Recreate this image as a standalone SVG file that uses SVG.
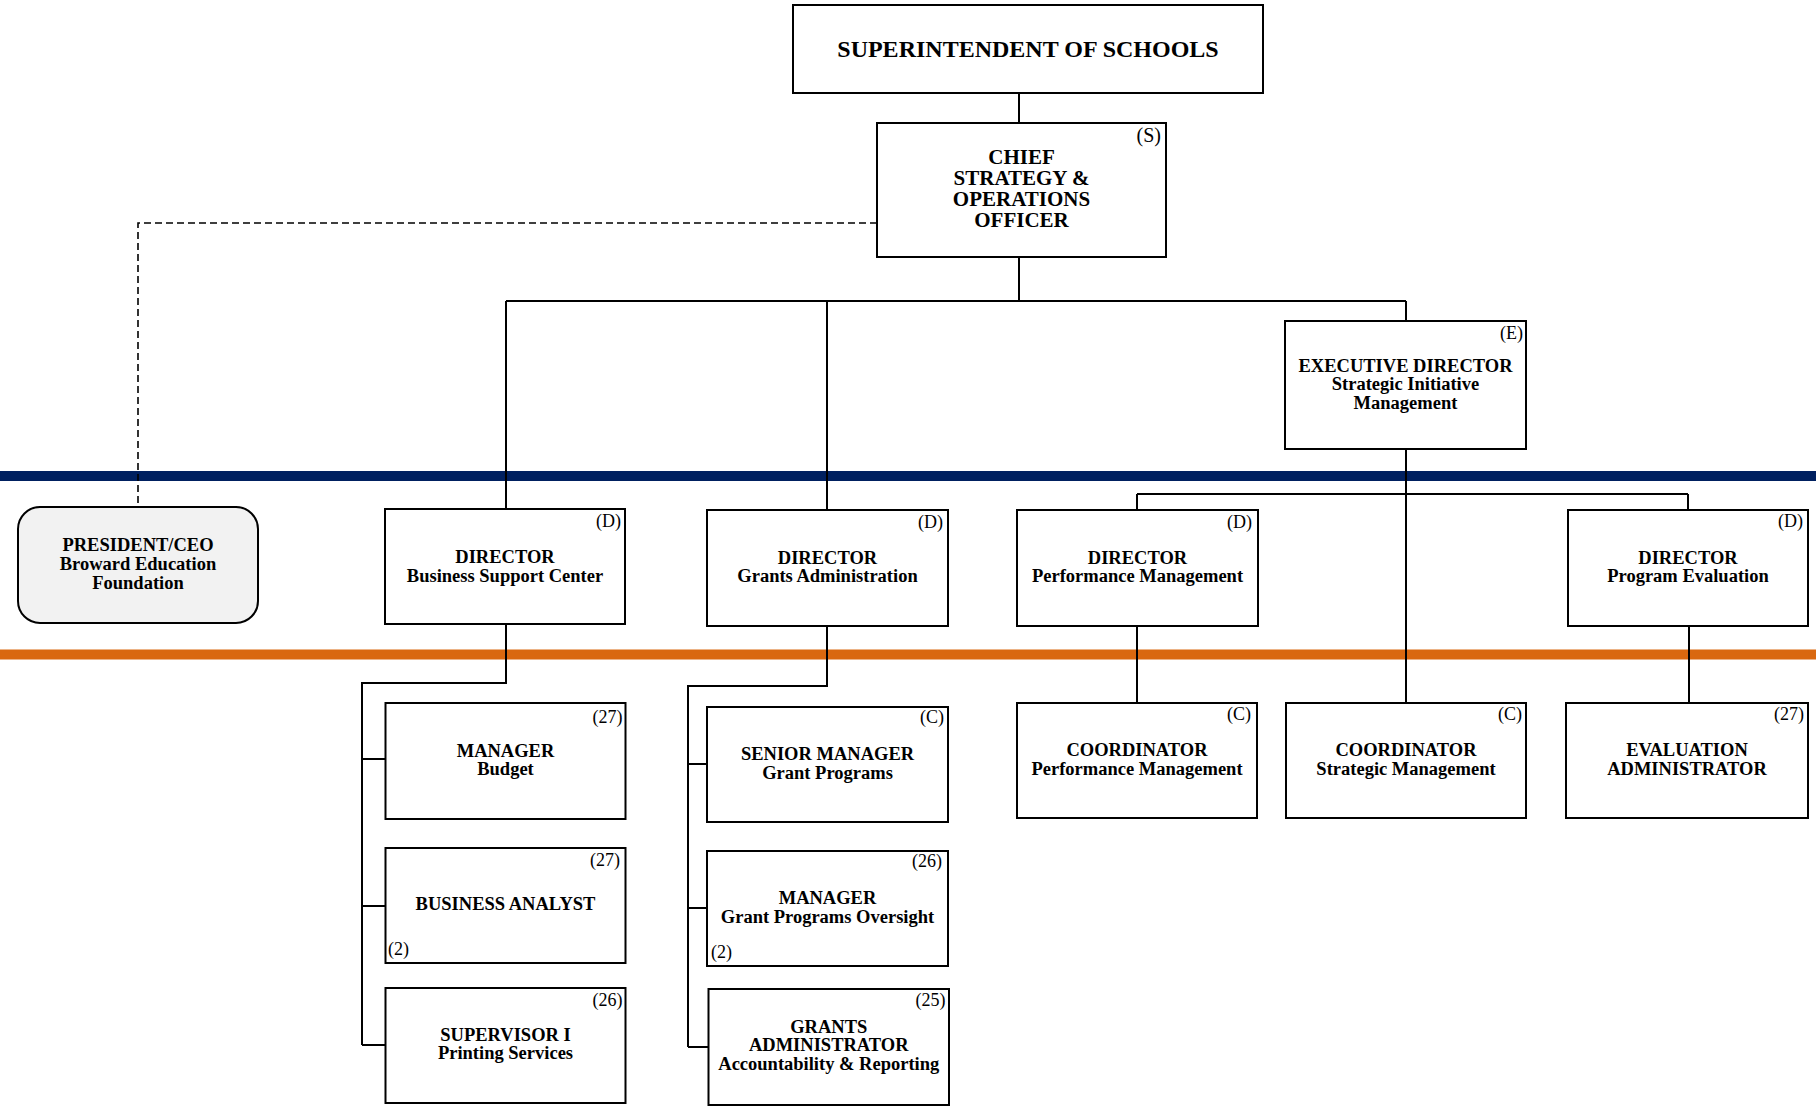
<svg xmlns="http://www.w3.org/2000/svg" width="1816" height="1112" viewBox="0 0 1816 1112">
<style>
.box{fill:#fff;stroke:#000;stroke-width:2}
.pres{fill:#f2f2f2;stroke:#000;stroke-width:2}
.t{font-family:"Liberation Serif","Times New Roman",serif;font-weight:bold;font-size:18.5px;text-anchor:middle;fill:#000}
.big{font-size:24px}
.chief{font-size:21px}
.lbl{font-family:"Liberation Serif","Times New Roman",serif;font-size:18px;text-anchor:end;fill:#000}
.lbls{text-anchor:start}
.ln{fill:none;stroke:#000;stroke-width:2}
.dash{fill:none;stroke:#000;stroke-width:1.6;stroke-dasharray:7 4}
</style>
<rect width="1816" height="1112" fill="#fff"/>
<g id="bands">
<rect x="0" y="471" width="1816" height="10" fill="#002060"/>
<rect x="0" y="649.5" width="1816" height="10" fill="#d9680f"/>
</g>
<g id="connectors">
<path class="ln" d="M1019,93 V123 M1019,257 V301 M506,301 H1406 M506,301 V509 M827,301 V510 M1406,301 V321 M1406,449 V703 M1137,494 H1688 M1137,494 V510 M1688,494 V510 M1137,626 V703 M1689,626 V703"/>
<path class="ln" d="M506,624 V683 H362 V1045 M362,759 H385.5 M362,906 H385.5 M362,1045 H385.5"/>
<path class="ln" d="M827,626 V686 H688 V1047 M688,764 H707 M688,908 H707 M688,1047 H708.5"/>
<path class="dash" d="M877,223 H138 V507"/>
</g>
<g id="superintendent">
<rect class="box" x="793" y="5" width="470" height="88"/>
<text class="t big" x="1028" y="57">SUPERINTENDENT OF SCHOOLS</text>
</g>
<g id="chief">
<rect class="box" x="877" y="123" width="289" height="134"/>
<text class="lbl" x="1161" y="142" style="font-size:20px">(S)</text>
<text class="t chief" x="1021.5" y="163.5">CHIEF</text>
<text class="t chief" x="1021.5" y="184.5">STRATEGY &amp;</text>
<text class="t chief" x="1021.5" y="205.5">OPERATIONS</text>
<text class="t chief" x="1021.5" y="226.5">OFFICER</text>
</g>
<g id="exec">
<rect class="box" x="1285" y="321" width="241" height="128"/>
<text class="lbl" x="1523" y="339">(E)</text>
<text class="t" x="1405.5" y="371.5">EXECUTIVE DIRECTOR</text>
<text class="t" x="1405.5" y="390">Strategic Initiative</text>
<text class="t" x="1405.5" y="408.5">Management</text>
</g>
<g id="president">
<rect class="pres" x="18" y="507" width="240" height="116" rx="22" ry="22"/>
<text class="t" x="138" y="551">PRESIDENT/CEO</text>
<text class="t" x="138" y="570">Broward Education</text>
<text class="t" x="138" y="589">Foundation</text>
</g>
<g id="dir-bsc">
<rect class="box" x="385" y="509" width="240" height="115"/>
<text class="lbl" x="621" y="527">(D)</text>
<text class="t" x="505" y="563">DIRECTOR</text>
<text class="t" x="505" y="581.5">Business Support Center</text>
</g>
<g id="dir-grants">
<rect class="box" x="707" y="510" width="241" height="116"/>
<text class="lbl" x="943" y="527.5">(D)</text>
<text class="t" x="827.5" y="564">DIRECTOR</text>
<text class="t" x="827.5" y="582">Grants Administration</text>
</g>
<g id="dir-perf">
<rect class="box" x="1017" y="510" width="241" height="116"/>
<text class="lbl" x="1252" y="527.5">(D)</text>
<text class="t" x="1137.5" y="564">DIRECTOR</text>
<text class="t" x="1137.5" y="582">Performance Management</text>
</g>
<g id="dir-prog">
<rect class="box" x="1568" y="510" width="240" height="116"/>
<text class="lbl" x="1803" y="527">(D)</text>
<text class="t" x="1688" y="563.5">DIRECTOR</text>
<text class="t" x="1688" y="582">Program Evaluation</text>
</g>
<g id="mgr-budget">
<rect class="box" x="385.5" y="703" width="240" height="116"/>
<text class="lbl" x="622.5" y="722.5">(27)</text>
<text class="t" x="505.5" y="757">MANAGER</text>
<text class="t" x="505.5" y="775">Budget</text>
</g>
<g id="business-analyst">
<rect class="box" x="385.5" y="848" width="240" height="115"/>
<text class="lbl" x="620" y="866">(27)</text>
<text class="t" x="505.5" y="910">BUSINESS ANALYST</text>
<text class="lbl lbls" x="388" y="955">(2)</text>
</g>
<g id="supervisor">
<rect class="box" x="385.5" y="988" width="240" height="115"/>
<text class="lbl" x="622.5" y="1005.5">(26)</text>
<text class="t" x="505.5" y="1041">SUPERVISOR I</text>
<text class="t" x="505.5" y="1059">Printing Services</text>
</g>
<g id="senior-mgr">
<rect class="box" x="707" y="707" width="241" height="115"/>
<text class="lbl" x="944" y="723">(C)</text>
<text class="t" x="827.5" y="760">SENIOR MANAGER</text>
<text class="t" x="827.5" y="778.5">Grant Programs</text>
</g>
<g id="mgr-gpo">
<rect class="box" x="707" y="851" width="241" height="115"/>
<text class="lbl" x="942" y="866.5">(26)</text>
<text class="t" x="827.5" y="904">MANAGER</text>
<text class="t" x="827.5" y="922.5">Grant Programs Oversight</text>
<text class="lbl lbls" x="711" y="958">(2)</text>
</g>
<g id="grants-admin">
<rect class="box" x="708.5" y="989" width="240.5" height="116"/>
<text class="lbl" x="945.5" y="1005.5">(25)</text>
<text class="t" x="828.75" y="1032.5">GRANTS</text>
<text class="t" x="828.75" y="1051">ADMINISTRATOR</text>
<text class="t" x="828.75" y="1069.5">Accountability &amp; Reporting</text>
</g>
<g id="coord-perf">
<rect class="box" x="1017" y="703" width="240" height="115"/>
<text class="lbl" x="1251" y="720">(C)</text>
<text class="t" x="1137" y="756">COORDINATOR</text>
<text class="t" x="1137" y="774.5">Performance Management</text>
</g>
<g id="coord-strat">
<rect class="box" x="1286" y="703" width="240" height="115"/>
<text class="lbl" x="1522" y="720">(C)</text>
<text class="t" x="1406" y="756">COORDINATOR</text>
<text class="t" x="1406" y="774.5">Strategic Management</text>
</g>
<g id="eval-admin">
<rect class="box" x="1566" y="703" width="242" height="115"/>
<text class="lbl" x="1804" y="720">(27)</text>
<text class="t" x="1687" y="756">EVALUATION</text>
<text class="t" x="1687" y="774.5">ADMINISTRATOR</text>
</g>
</svg>
